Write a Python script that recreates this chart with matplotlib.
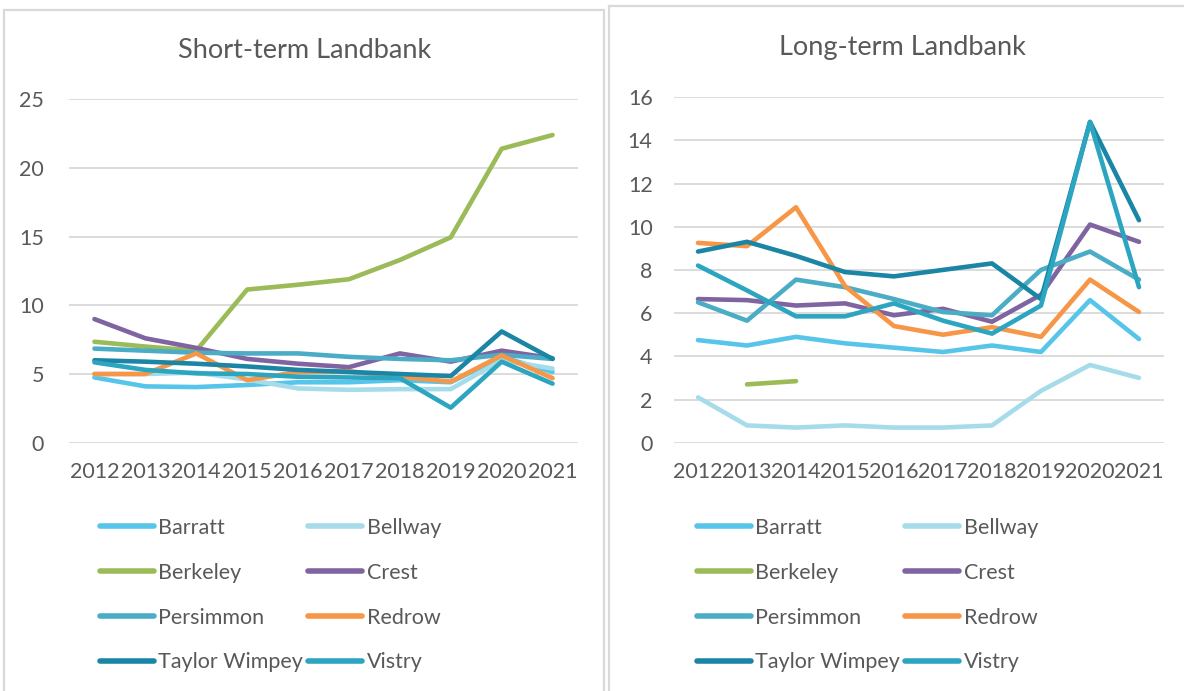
import numpy as np
import matplotlib
matplotlib.use("Agg")
import matplotlib.pyplot as plt
from matplotlib.patches import Rectangle

years = ["2012", "2013", "2014", "2015", "2016", "2017", "2018", "2019", "2020", "2021"]
companies = ["Barratt", "Bellway", "Berkeley", "Crest", "Persimmon", "Redrow", "Taylor Wimpey", "Vistry"]
colors = ["#57C5EA", "#A6DCEA", "#9BBB59", "#8064A2", "#4BACC6", "#F79646", "#1B85A6", "#2CA6C0"]

nan = np.nan
# Short-term landbank (years)
st_barratt = [4.75, 4.1, 4.05, 4.2, 4.4, 4.4, 4.55, 4.4, 6.25, 5.15]
st_bellway = [5.0, 5.0, 5.1, 4.6, 3.95, 3.85, 3.9, 3.9, 6.0, 5.4]
st_berkeley = [7.35, 7.0, 6.7, 11.15, 11.5, 11.9, 13.3, 14.95, 21.4, 22.4]
st_crest = [9.0, 7.6, 6.9, 6.1, 5.75, 5.5, 6.5, 5.9, 6.7, 6.15]
st_persimmon = [6.85, 6.7, 6.55, 6.5, 6.5, 6.25, 6.1, 6.0, 6.4, 6.1]
st_redrow = [5.0, 5.0, 6.5, 4.55, 5.15, 5.2, 4.8, 4.45, 6.35, 4.7]
st_taylor = [6.0, 5.9, 5.75, 5.55, 5.3, 5.15, 5.0, 4.85, 8.1, 6.1]
st_vistry = [5.85, 5.3, 5.05, 5.0, 4.8, 4.75, 4.7, 2.55, 5.9, 4.3]

# Long-term landbank (years)
lt_barratt = [4.75, 4.5, 4.9, 4.6, 4.4, 4.2, 4.5, 4.2, 6.6, 4.8]
lt_bellway = [2.1, 0.8, 0.7, 0.8, 0.7, 0.7, 0.8, 2.4, 3.6, 3.0]
lt_berkeley = [nan, 2.7, 2.85, nan, nan, nan, nan, nan, nan, nan]
lt_crest = [6.65, 6.6, 6.35, 6.45, 5.9, 6.2, 5.6, 6.85, 10.1, 9.3]
lt_persimmon = [6.5, 5.65, 7.55, 7.2, 6.65, 6.05, 5.9, 8.0, 8.85, 7.55]
lt_redrow = [9.25, 9.1, 10.9, 7.25, 5.4, 5.0, 5.35, 4.9, 7.55, 6.05]
lt_taylor = [8.85, 9.3, 8.65, 7.9, 7.7, 8.0, 8.3, 6.65, 14.85, 10.3]
lt_vistry = [8.2, 7.05, 5.85, 5.85, 6.45, 5.65, 5.05, 6.35, 14.85, 7.2]

short_term = [st_barratt, st_bellway, st_berkeley, st_crest, st_persimmon, st_redrow, st_taylor, st_vistry]
long_term = [lt_barratt, lt_bellway, lt_berkeley, lt_crest, lt_persimmon, lt_redrow, lt_taylor, lt_vistry]

plt.rcParams['font.family'] = ['Lato', 'DejaVu Sans']
TXT = "#595959"
GRID = "#D9D9D9"

W, H = 1184, 691
fig = plt.figure(figsize=(W / 100, H / 100), dpi=100)

def px_rect(x0, y0, x1, y1):
    return [x0 / W, 1 - y1 / H, (x1 - x0) / W, (y1 - y0) / H]

# panel borders
for (x0, y0, x1, y1) in [(4, 10, 604, 700), (609, 6, 1195, 700)]:
    fig.patches.append(Rectangle((x0 / W, 1 - y1 / H), (x1 - x0) / W, (y1 - y0) / H,
                                 transform=fig.transFigure, fill=False,
                                 edgecolor=GRID, linewidth=1.6, zorder=0))

def draw(ax, data, ymax, ystep, title, title_x, title_y, leg_x, leg_y, ypad):
    x = np.arange(len(years))
    lines = []
    for vals, c, name in zip(data, colors, companies):
        ln, = ax.plot(x, vals, color=c, lw=3.3, solid_capstyle='round',
                      solid_joinstyle='round', label=name)
        lines.append(ln)
    ax.set_xlim(-0.5, len(years) - 0.5)
    ax.set_ylim(0, ymax)
    ax.set_yticks(np.arange(0, ymax + 0.01, ystep))
    ax.set_xticks(x)
    ax.set_xticklabels(years)
    ax.grid(axis='y', color=GRID, lw=1.3)
    ax.set_axisbelow(True)
    for s in ax.spines.values():
        s.set_visible(False)
    ax.tick_params(axis='both', length=0, labelsize=15.5, colors=TXT)
    ax.tick_params(axis='y', pad=ypad)
    ax.tick_params(axis='x', pad=14)
    fig.text(title_x / W, 1 - title_y / H, title, ha='center', va='center',
             fontsize=19.5, color=TXT)
    # row-wise legend order for 2 columns (matplotlib fills column-wise)
    order = [0, 2, 4, 6, 1, 3, 5, 7]
    leg = ax.legend([lines[i] for i in order], [companies[i] for i in order],
                    loc='upper left', bbox_to_anchor=(leg_x / W, 1 - leg_y / H),
                    bbox_transform=fig.transFigure, ncol=2, frameon=False,
                    fontsize=15.5, handlelength=2.5, handletextpad=0.2,
                    columnspacing=0.25, labelspacing=1.15, borderpad=0,
                    borderaxespad=0)
    for t in leg.get_texts():
        t.set_color(TXT)
    for l in leg.get_lines():
        l.set_linewidth(4.0)
        l.set_solid_capstyle('round')

ax1 = fig.add_axes(px_rect(69, 99.3, 578, 442.7))
draw(ax1, short_term, 25, 5, "Short-term Landbank", 305, 50, 100, 518, 18)

ax2 = fig.add_axes(px_rect(673.5, 97.1, 1163.5, 442.7))
draw(ax2, long_term, 16, 2, "Long-term Landbank", 902, 47, 697, 518, 15)

fig.savefig("out.png", dpi=100)
